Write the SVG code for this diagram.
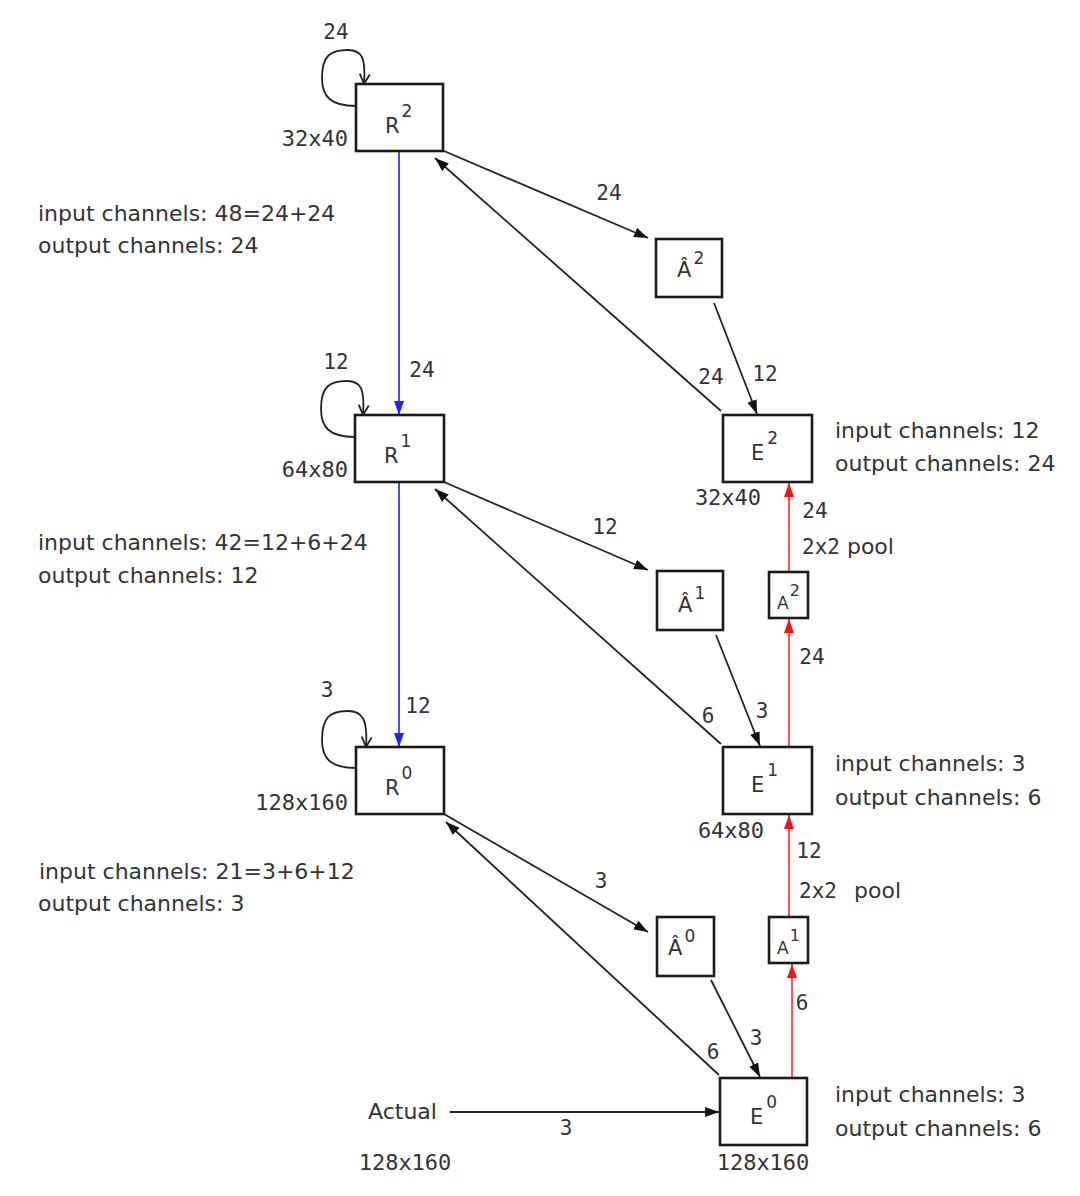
<svg xmlns="http://www.w3.org/2000/svg" width="1080" height="1196" viewBox="0 0 1080 1196">
<style>
.box{fill:#fff;stroke:#1a1a1a;stroke-width:2.6}
.edge{fill:none;stroke:#222;stroke-width:1.8}
.loop{fill:none;stroke:#222;stroke-width:1.8}
.blue{fill:none;stroke:#3535ff;stroke-width:1.8}
.red{fill:none;stroke:#f05555;stroke-width:2}
.lbl{font-family:"DejaVu Sans",sans-serif;font-size:21px;fill:#333}
.sm{font-family:"DejaVu Sans",sans-serif;font-size:17px;fill:#333}
.num{font-family:"DejaVu Sans Mono",monospace;font-size:21px;fill:#333}
.dim{font-family:"DejaVu Sans Mono",monospace;font-size:22px;fill:#333}
.note{font-family:"DejaVu Sans",sans-serif;font-size:22px;fill:#333}
</style>
<defs>
<marker id="ah" viewBox="0 0 14 10" refX="14" refY="5" markerWidth="14" markerHeight="10" markerUnits="userSpaceOnUse" orient="auto"><path d="M0,0 L14,5 L0,10 z" fill="#111"/></marker>
<marker id="ahb" viewBox="0 0 14 10" refX="14" refY="5" markerWidth="14" markerHeight="10" markerUnits="userSpaceOnUse" orient="auto"><path d="M0,0 L14,5 L0,10 z" fill="#2020ff"/></marker>
<marker id="ahr" viewBox="0 0 14 10" refX="14" refY="5" markerWidth="14" markerHeight="10" markerUnits="userSpaceOnUse" orient="auto"><path d="M0,0 L14,5 L0,10 z" fill="#ff1010"/></marker>
<marker id="ahv" viewBox="0 0 12 12" refX="11" refY="6" markerWidth="12" markerHeight="12" markerUnits="userSpaceOnUse" orient="auto"><path d="M1,1 L11,6 L1,11" fill="none" stroke="#222" stroke-width="1.8"/></marker>
</defs>

<g id="connectors">
  <path class="loop" marker-end="url(#ahv)" d="M356,106 C330,106 322,96 322,78 C322,56 330,50 348,50 C362,50 366,58 364,84"/>
  <path class="loop" marker-end="url(#ahv)" d="M355,437 C329,437 321,427 321,409 C321,387 329,381 347,381 C361,381 365,389 363,415"/>
  <path class="loop" marker-end="url(#ahv)" d="M356,768 C330,768 322,758 322,740 C322,717 330,711 348,711 C362,711 368,719 366,747"/>
  <path class="blue" marker-end="url(#ahb)" d="M399,151 L399,415"/>
  <path class="blue" marker-end="url(#ahb)" d="M399,482 L399,747"/>
  <path class="edge" marker-end="url(#ah)" d="M444,151 L648,238"/>
  <path class="edge" marker-end="url(#ah)" d="M444,482 L648,570"/>
  <path class="edge" marker-end="url(#ah)" d="M444,814 L648,932"/>
  <path class="edge" marker-end="url(#ah)" d="M721,411 L435,158"/>
  <path class="edge" marker-end="url(#ah)" d="M721,744 L435,489"/>
  <path class="edge" marker-end="url(#ah)" d="M719,1075 L446,822"/>
  <path class="edge" marker-end="url(#ah)" d="M714,303 L757,414"/>
  <path class="edge" marker-end="url(#ah)" d="M716,635 L760,746"/>
  <path class="edge" marker-end="url(#ah)" d="M711,980 L760,1077"/>
  <path class="edge" marker-end="url(#ah)" d="M450,1112 L719,1112"/>
  <path class="red" marker-end="url(#ahr)" d="M792,1078 L792,964"/>
  <path class="red" marker-end="url(#ahr)" d="M789,917 L789,815"/>
  <path class="red" marker-end="url(#ahr)" d="M789,747 L789,619"/>
  <path class="red" marker-end="url(#ahr)" d="M789,572 L789,483"/>

  <text class="num" x="336" y="39" text-anchor="middle">24</text>
  <text class="num" x="336" y="369" text-anchor="middle">12</text>
  <text class="num" x="327" y="697" text-anchor="middle">3</text>
  <text class="num" x="422" y="377" text-anchor="middle">24</text>
  <text class="num" x="418" y="713" text-anchor="middle">12</text>
  <text class="num" x="609" y="200" text-anchor="middle">24</text>
  <text class="num" x="605" y="534" text-anchor="middle">12</text>
  <text class="num" x="601" y="888" text-anchor="middle">3</text>
  <text class="num" x="711" y="384" text-anchor="middle">24</text>
  <text class="num" x="765" y="381" text-anchor="middle">12</text>
  <text class="num" x="708" y="723" text-anchor="middle">6</text>
  <text class="num" x="762" y="718" text-anchor="middle">3</text>
  <text class="num" x="713" y="1059" text-anchor="middle">6</text>
  <text class="num" x="756" y="1045" text-anchor="middle">3</text>
  <text class="num" x="566" y="1135" text-anchor="middle">3</text>
  <text class="num" x="815" y="518" text-anchor="middle">24</text>
  <text class="note" x="802" y="554"><tspan class="num">2x2</tspan> pool</text>
  <text class="num" x="812" y="664" text-anchor="middle">24</text>
  <text class="num" x="809" y="858" text-anchor="middle">12</text>
  <text class="note" x="799" y="898"><tspan class="num">2x2</tspan><tspan x="854">pool</tspan></text>
  <text class="num" x="802" y="1010" text-anchor="middle">6</text>
</g>

<g id="R2">
  <rect class="box" x="356" y="84" width="87" height="67"/>
  <text class="lbl" x="385" y="133">R<tspan class="sm" dx="2" dy="-16">2</tspan></text>
  <text class="dim" x="348" y="146" text-anchor="end">32x40</text>
</g>
<g id="R1">
  <rect class="box" x="355" y="415" width="89" height="67"/>
  <text class="lbl" x="384" y="463">R<tspan class="sm" dx="2" dy="-16">1</tspan></text>
  <text class="dim" x="348" y="477" text-anchor="end">64x80</text>
</g>
<g id="R0">
  <rect class="box" x="356" y="747" width="88" height="67"/>
  <text class="lbl" x="385" y="795">R<tspan class="sm" dx="2" dy="-16">0</tspan></text>
  <text class="dim" x="348" y="810" text-anchor="end">128x160</text>
</g>
<g id="Ahat2">
  <rect class="box" x="656" y="239" width="66" height="58"/>
  <text class="lbl" x="677" y="277">Â<tspan class="sm" dx="2" dy="-13">2</tspan></text>
</g>
<g id="Ahat1">
  <rect class="box" x="657" y="571" width="66" height="59"/>
  <text class="lbl" x="678" y="612">Â<tspan class="sm" dx="2" dy="-13">1</tspan></text>
</g>
<g id="Ahat0">
  <rect class="box" x="657" y="917" width="57" height="59"/>
  <text class="lbl" x="668" y="955">Â<tspan class="sm" dx="2" dy="-13">0</tspan></text>
</g>
<g id="A2">
  <rect class="box" x="769" y="572" width="39" height="46"/>
  <text class="sm" x="777" y="609">A<tspan font-size="16" dx="1" dy="-13">2</tspan></text>
</g>
<g id="A1">
  <rect class="box" x="769" y="917" width="39" height="46"/>
  <text class="sm" x="777" y="954">A<tspan font-size="16" dx="1" dy="-13">1</tspan></text>
</g>
<g id="E2">
  <rect class="box" x="723" y="415" width="89" height="67"/>
  <text class="lbl" x="751" y="460">E<tspan class="sm" dx="3" dy="-16">2</tspan></text>
  <text class="dim" x="728" y="505" text-anchor="middle">32x40</text>
</g>
<g id="E1">
  <rect class="box" x="723" y="747" width="89" height="67"/>
  <text class="lbl" x="751" y="792">E<tspan class="sm" dx="3" dy="-16">1</tspan></text>
  <text class="dim" x="731" y="838" text-anchor="middle">64x80</text>
</g>
<g id="E0">
  <rect class="box" x="720" y="1078" width="87" height="67"/>
  <text class="lbl" x="750" y="1124">E<tspan class="sm" dx="3" dy="-16">0</tspan></text>
  <text class="dim" x="763" y="1170" text-anchor="middle">128x160</text>
</g>
<g id="Actual">
  <text class="note" x="368" y="1119">Actual</text>
  <text class="dim" x="405" y="1170" text-anchor="middle">128x160</text>
</g>

<g id="notes">
  <text class="note" x="38" y="221">input channels: 48=24+24</text>
  <text class="note" x="38" y="253">output channels: 24</text>
  <text class="note" x="38" y="550">input channels: 42=12+6+24</text>
  <text class="note" x="38" y="583">output channels: 12</text>
  <text class="note" x="39" y="879">input channels: 21=3+6+12</text>
  <text class="note" x="38" y="911">output channels: 3</text>
  <text class="note" x="835" y="438">input channels: 12</text>
  <text class="note" x="835" y="471">output channels: 24</text>
  <text class="note" x="835" y="771">input channels: 3</text>
  <text class="note" x="835" y="805">output channels: 6</text>
  <text class="note" x="835" y="1102">input channels: 3</text>
  <text class="note" x="835" y="1136">output channels: 6</text>
</g>
</svg>
